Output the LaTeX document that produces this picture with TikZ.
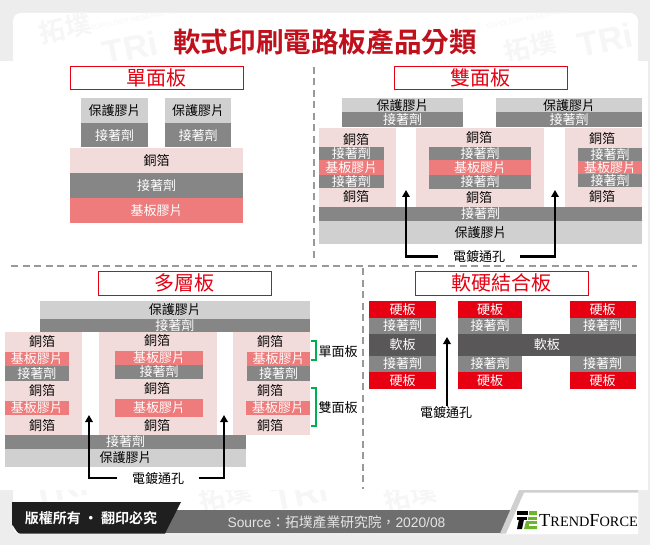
\documentclass[tikz,border=0pt]{standalone}
\usepackage{fontspec}
\setmainfont{Noto Sans CJK TC}
\newfontfamily\boldcjk{Noto Sans CJK TC Bold}
\newfontfamily\lib{Liberation Sans}
\newfontfamily\libserif{Liberation Serif}
\usetikzlibrary{arrows.meta}
\definecolor{cCu}{HTML}{F2DCDB}
\definecolor{cAd}{HTML}{868686}
\definecolor{cSb}{HTML}{EF7C7C}
\definecolor{cPr}{HTML}{D0D0D0}
\definecolor{cHd}{HTML}{E60012}
\definecolor{cFx}{HTML}{595757}
\definecolor{cBg}{HTML}{EDEDED}
\definecolor{cWm}{HTML}{F6F6F6}
\definecolor{cDash}{HTML}{999999}
\definecolor{cTitle}{HTML}{C0101C}
\definecolor{cGreen}{HTML}{00B050}
\definecolor{cBar}{HTML}{6E6E6E}
\definecolor{cLeaf}{HTML}{6DB52D}
\tikzset{
  base/.style={inner sep=0pt,outer sep=0pt,font=\fontsize{13}{13}\selectfont,anchor=center},
  cu/.style={base,fill=cCu,text=black},
  ad/.style={base,fill=cAd,text=white},
  sb/.style={base,fill=cSb,text=white},
  pr/.style={base,fill=cPr,text=black},
  hd/.style={base,fill=cHd,text=white},
  fx/.style={base,fill=cFx,text=white},
  lbl/.style={base,text=black},
  ttl/.style={base,draw=cHd,line width=1pt,fill=white,text=cHd,font=\fontsize{20}{20}\selectfont},
  dashline/.style={draw=cDash,line width=1.4pt,dash pattern=on 7pt off 4.5pt},
  arr/.style={draw=black,line width=2.2pt,-{Triangle[length=7pt,width=7.5pt]}},
  arrplain/.style={arr,shorten <=15pt},
  brk/.style={draw=cGreen,line width=2pt},
  wm/.style={inner sep=0pt,text=cWm,rotate=12,font=\boldcjk\fontsize{26}{26}\selectfont},
  wmt/.style={inner sep=0pt,text=cWm,rotate=12,font=\lib\bfseries\fontsize{34}{34}\selectfont},
  wms/.style={inner sep=0pt,text=cWm,rotate=12,font=\lib\fontsize{7}{7}\selectfont},
}
\newcommand{\blk}[7]{\node[#6,minimum width={(#4-#2)*1pt},minimum height={(#5-#3)*1pt}] (#1) at ({(#2+#4)/2},{(#3+#5)/2}) {#7};}
\begin{document}
\begin{tikzpicture}[x=1pt,y=-1pt]
\useasboundingbox (0,0) rectangle (650,545);
\fill[cBg] (0,0) rectangle (650,545);
% card
\fill[white,rounded corners=8pt] (13,13) rectangle (638,534);
\begin{scope}
\clip (13,13) rectangle (638,534);
\node[wm] (w1) at (65,28) {拓墣};
\node[wmt] (w2) at (130,48) {TRi};
\node[wm] (w5) at (530,47) {拓墣};
\node[wmt] (w6) at (605,40) {TRi};
\node[wms] (w7) at (130,20) {TOPOLOGY RESEARCH};
\node[wms] (w8) at (525,19) {TOPOLOGY RESEARCH};
\node[wmt] (w9) at (60,488) {TRi};
\node[wm] (w10) at (225,496) {拓墣};
\node[wmt] (w11) at (300,494) {TRi};
\node[wm] (w12) at (410,496) {拓墣};
\end{scope}
% panel
\fill[white] (0,61) rectangle (648,490);
% title
\node[base,text=cTitle,font=\boldcjk\fontsize{27.6}{28}\selectfont] (title) at (325,42) {軟式印刷電路板產品分類};
% dashes
\coordinate (d1a) at (314,67); \coordinate (d1b) at (314,262);
\coordinate (d2a) at (11,266); \coordinate (d2b) at (637,266);
\coordinate (d3a) at (363,268); \coordinate (d3b) at (363,489);
\draw[dashline] (d1a) -- (d1b);
\draw[dashline] (d2a) -- (d2b);
\draw[dashline] (d3a) -- (d3b);

% ---------- single sided
\blk{t1}{70.5}{66.5}{243}{90}{ttl}{單面板}
\blk{a1}{81}{98}{148}{123}{pr}{保護膠片}
\blk{a2}{165}{98}{231}{123}{pr}{保護膠片}
\blk{a3}{81}{123}{148}{147.5}{ad}{接著劑}
\blk{a4}{165}{123}{231}{147.5}{ad}{接著劑}
\blk{a5}{70}{148}{243}{173}{cu}{銅箔}
\blk{a6}{70}{173}{243}{198}{ad}{接著劑}
\blk{a7}{70}{198}{243}{223}{sb}{基板膠片}

% ---------- double sided
\blk{t2}{394.5}{66.5}{567}{90}{ttl}{雙面板}
\blk{b1}{342}{98}{463}{112.5}{pr}{保護膠片}
\blk{b2}{496}{98}{642}{112.5}{pr}{保護膠片}
\blk{b3}{342}{112.5}{463}{127}{ad}{接著劑}
\blk{b4}{496}{112.5}{642}{127}{ad}{接著劑}
\blk{b5}{319}{128}{396}{207}{cu}{}
\blk{b6}{416}{128}{544}{207}{cu}{}
\blk{b7}{565}{128}{642}{207}{cu}{}
\node[lbl] (b8) at (356,139.5) {銅箔};
\node[lbl] (b9) at (479,137.5) {銅箔};
\node[lbl] (b10) at (602,138.5) {銅箔};
\blk{b11}{319}{147.5}{383.5}{160}{ad}{接著劑}
\blk{b12}{319}{160}{383.5}{175}{sb}{基板膠片}
\blk{b13}{319}{175}{383.5}{188}{ad}{接著劑}
\blk{b14}{429}{147}{531}{160}{ad}{接著劑}
\blk{b15}{429}{160}{531}{175}{sb}{基板膠片}
\blk{b16}{429}{175}{531}{189}{ad}{接著劑}
\blk{b17}{578}{148}{642}{161}{ad}{接著劑}
\blk{b18}{578}{161}{642}{174}{sb}{基板膠片}
\blk{b19}{578}{174}{642}{187}{ad}{接著劑}
\node[lbl] (b20) at (356,197) {銅箔};
\node[lbl] (b21) at (479,198) {銅箔};
\node[lbl] (b22) at (602,197) {銅箔};
\blk{b23}{319}{207}{642}{221}{ad}{接著劑}
\blk{b24}{319}{221}{642}{244}{pr}{保護膠片}
\node[lbl] (b25) at (479,256.5) {電鍍通孔};
\coordinate (b26) at (406,190);
\coordinate (b27) at (555,190);
\draw[arrplain] (b25.west) -| (b26);
\draw[arrplain] (b25.east) -| (b27);

% ---------- multi layer
\blk{t3}{98}{271}{271}{295}{ttl}{多層板}
\blk{c1}{39.5}{301}{310}{319}{pr}{保護膠片}
\blk{c2}{39.5}{319}{310}{332}{ad}{接著劑}
\blk{c3}{5}{332}{82}{435}{cu}{}
\blk{c4}{99}{332}{217}{435}{cu}{}
\blk{c5}{233}{332}{310}{435}{cu}{}
\node[lbl] (c6) at (42,342) {銅箔};
\node[lbl] (c7) at (157,341) {銅箔};
\node[lbl] (c8) at (270,342) {銅箔};
\blk{c9}{5}{352}{68.5}{366}{sb}{基板膠片}
\blk{c10}{5}{366}{68.5}{381}{ad}{接著劑}
\blk{c11}{115}{351}{203}{365}{sb}{基板膠片}
\blk{c12}{115}{365}{203}{379}{ad}{接著劑}
\blk{c13}{247}{352}{310}{366}{sb}{基板膠片}
\blk{c14}{247}{366}{310}{381}{ad}{接著劑}
\node[lbl] (c15) at (42,391) {銅箔};
\node[lbl] (c16) at (157,388.5) {銅箔};
\node[lbl] (c17) at (270,391) {銅箔};
\blk{c18}{5}{400.5}{68.5}{415}{sb}{基板膠片}
\blk{c19}{115}{399}{203}{417}{sb}{基板膠片}
\blk{c20}{246}{401}{310}{415}{sb}{基板膠片}
\node[lbl] (c21) at (42,426) {銅箔};
\node[lbl] (c22) at (157,426) {銅箔};
\node[lbl] (c23) at (270,426) {銅箔};
\blk{c24}{5}{435}{246}{449}{ad}{接著劑}
\blk{c25}{5}{449}{246}{467}{pr}{保護膠片}
\node[lbl] (c26) at (158,478) {電鍍通孔};
\coordinate (c27) at (89,415);
\coordinate (c28) at (224,415);
\draw[arrplain] (c26.west) -| (c27);
\draw[arrplain] (c26.east) -| (c28);
\node[lbl] (c29) at (338,352) {單面板};
\node[lbl] (c30) at (338,408) {雙面板};
\coordinate (c31) at (311,341); \coordinate (c32) at (311,360);
\coordinate (c33) at (311,388); \coordinate (c34) at (311,426);
\draw[brk] (c31) -- ++(5,0) -- ++(0,19) -- (c32);
\draw[brk] (c33) -- ++(5,0) -- ++(0,38) -- (c34);

% ---------- rigid-flex
\blk{t4}{415.5}{271}{588}{295}{ttl}{軟硬結合板}
\blk{d1}{369}{301}{436}{318}{hd}{硬板}
\blk{d2}{458}{301}{522}{318}{hd}{硬板}
\blk{d3}{569.5}{301}{635.5}{318}{hd}{硬板}
\blk{d4}{369}{318}{436}{334}{ad}{接著劑}
\blk{d5}{458}{318}{522}{334}{ad}{接著劑}
\blk{d6}{569.5}{318}{635.5}{334}{ad}{接著劑}
\blk{d7}{369}{334}{436}{356}{fx}{軟板}
\blk{d8}{458}{334}{635.5}{356}{fx}{軟板}
\blk{d9}{369}{356}{436}{372}{ad}{接著劑}
\blk{d10}{458}{356}{522}{372}{ad}{接著劑}
\blk{d11}{569.5}{356}{635.5}{372}{ad}{接著劑}
\blk{d12}{369}{372}{436}{388.5}{hd}{硬板}
\blk{d13}{458}{372}{522}{388.5}{hd}{硬板}
\blk{d14}{569.5}{372}{635.5}{388.5}{hd}{硬板}
\node[lbl] (d15) at (446,412) {電鍍通孔};
\coordinate (d16) at (447,337);
\draw[arr] (d15.north -| d16) -- (d16);

% ---------- footer
\path[fill=cBar] (165,510) -- (513,510) -- (503,533) -- (160,533) -- cycle;
\path[fill=white] (523,491) -- (638,491) -- (638,534) -- (503,534) -- cycle;
\path[fill=cPr] (519,490) -- (638,490) -- (638,492.5) -- (524,492.5) -- (506,533.5) -- (500,533.5) -- cycle;
\path[fill=black!88] (181,502) -- (165,533.5) -- (20,533.5) to[out=180,in=90] (12,525.5) -- (12,502) -- cycle;
\node[base,text=white,font=\boldcjk\fontsize{14}{14}\selectfont] (f1) at (91,518) {版權所有 · 翻印必究};
\node[base,text=white!90!black,font=\fontsize{13.8}{14}\selectfont] (f2) at (336.5,522) {{\lib Source}：拓墣產業研究院，{\lib 2020/08}};
\path[fill=black] (517,511) rectangle (528,515);
\path[fill=black] (517,517) rectangle (527,519.5);
\path[fill=black] (519,519.5) -- (524,519.5) -- (522,529) -- (517,529) -- cycle;
\path[fill=cLeaf] (529,511) rectangle (537,515);
\path[fill=cLeaf] (528,517) rectangle (537,519.5);
\path[fill=cLeaf] (526,521) -- (537,521) -- (537,529) -- (524,529) -- cycle;
\path[fill=white] (529,523.5) rectangle (537,525.5);
\node[base,text=black,font=\libserif\fontsize{14.3}{16}\selectfont] (f3) at (588.5,521) {{\fontsize{18.4}{18}\selectfont T}REND{\fontsize{18.4}{18}\selectfont F}ORCE};
\end{tikzpicture}
\end{document}
